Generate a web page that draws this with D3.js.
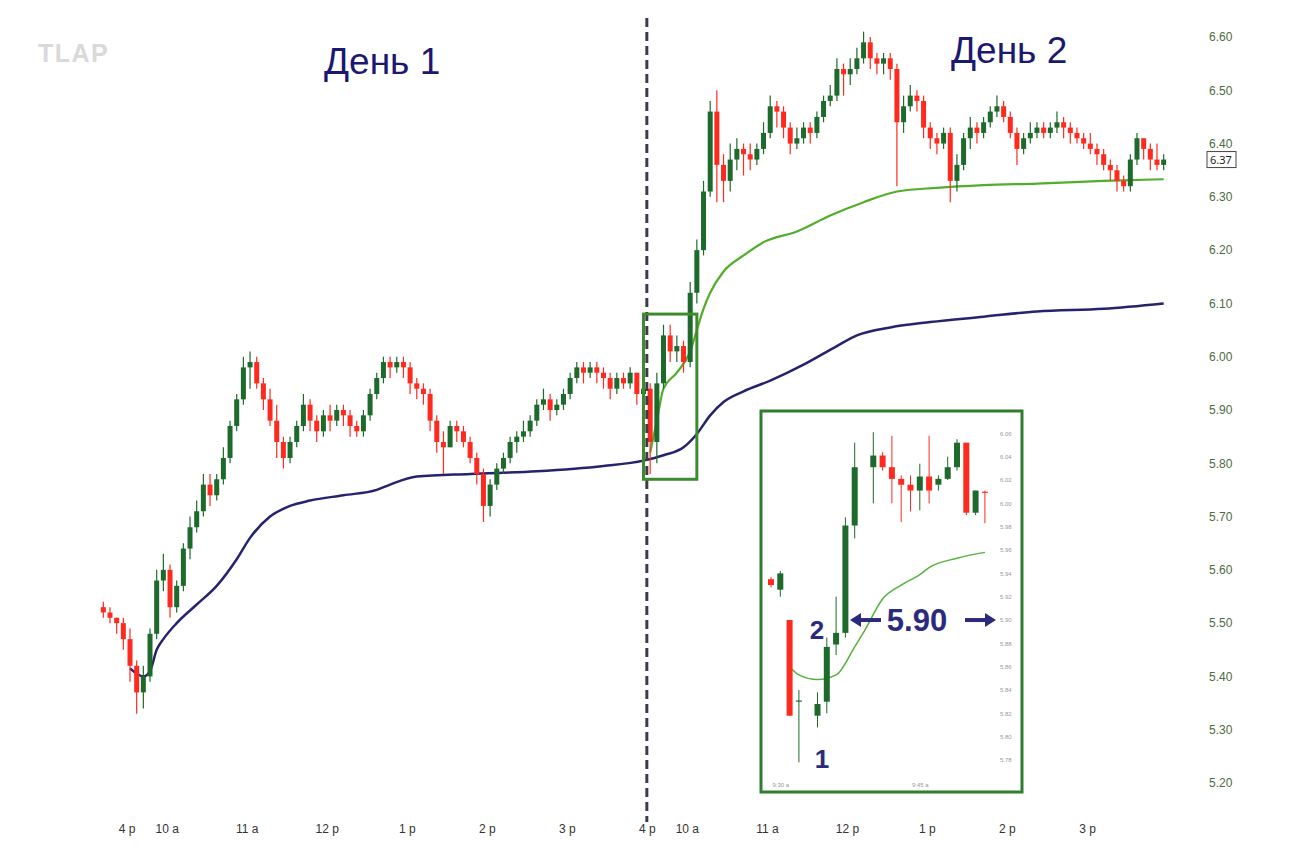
<!DOCTYPE html>
<html>
<head>
<meta charset="utf-8">
<script src="https://cdn.jsdelivr.net/npm/d3@7"></script>
<style>
  body { margin: 0; background: #fff; }
  svg { display: block; font-family: "Noto Sans", sans-serif; }
</style>
</head>
<body>
<svg id="chart" width="1290" height="864"></svg>
<script>
// 5-minute bars: 4 bars of the previous afternoon, then day 1 and day 2 sessions
const firstOpen = 5.53;
const closes = [
  5.52, 5.51, 5.50, 5.47, 5.42, 5.37, 5.40, 5.48, 5.58, 5.60,
  5.53, 5.57, 5.64, 5.68, 5.71, 5.76, 5.74, 5.77, 5.81, 5.87,
  5.92, 5.98, 5.99, 5.95, 5.92, 5.88, 5.84, 5.81, 5.84, 5.87,
  5.91, 5.88, 5.86, 5.89, 5.88, 5.90, 5.89, 5.87, 5.86, 5.89,
  5.93, 5.96, 5.99, 5.98, 5.99, 5.98, 5.95, 5.94, 5.93, 5.88,
  5.84, 5.83, 5.87, 5.86, 5.84, 5.81, 5.78, 5.72, 5.76, 5.79,
  5.81, 5.84, 5.85, 5.86, 5.88, 5.91, 5.92, 5.90, 5.91, 5.93,
  5.96, 5.98, 5.97, 5.98, 5.97, 5.96, 5.94, 5.96, 5.95, 5.97,
  5.93, 5.94,
  5.84, 5.95, 6.04, 6.01, 6.02, 5.99, 6.12, 6.20,
  6.31, 6.46, 6.36, 6.33, 6.37, 6.39, 6.38, 6.37, 6.39, 6.42,
  6.47, 6.46, 6.43, 6.40, 6.41, 6.43, 6.42, 6.45, 6.48, 6.49,
  6.54, 6.53, 6.54, 6.56, 6.59, 6.56, 6.55, 6.56, 6.54, 6.44,
  6.47, 6.49, 6.48, 6.43, 6.41, 6.40, 6.42, 6.33, 6.36, 6.41,
  6.43, 6.42, 6.44, 6.46, 6.47, 6.45, 6.42, 6.39, 6.41, 6.42,
  6.43, 6.42, 6.43, 6.44, 6.43, 6.42, 6.41, 6.40, 6.39, 6.38,
  6.36, 6.35, 6.33, 6.32, 6.37, 6.41, 6.39, 6.37, 6.36, 6.37
];
const highs = [
  5.54, 5.53, 5.51, 5.51, 5.49, 5.43, 5.42, 5.49, 5.60, 5.63,
  5.61, 5.58, 5.65, 5.70, 5.73, 5.78, 5.78, 5.78, 5.83, 5.88,
  5.93, 6.00, 6.01, 6.00, 5.96, 5.94, 5.91, 5.85, 5.85, 5.88,
  5.93, 5.92, 5.89, 5.90, 5.91, 5.91, 5.91, 5.90, 5.88, 5.90,
  5.94, 5.97, 6.00, 6.00, 6.00, 6.00, 5.99, 5.96, 5.95, 5.94,
  5.89, 5.86, 5.88, 5.88, 5.87, 5.85, 5.82, 5.79, 5.77, 5.80,
  5.82, 5.85, 5.86, 5.88, 5.89, 5.92, 5.94, 5.93, 5.92, 5.94,
  5.97, 5.99, 5.99, 5.99, 5.99, 5.98, 5.97, 5.97, 5.97, 5.98,
  5.97, 5.96,
  5.95, 5.97, 6.06, 6.06, 6.04, 6.03, 6.14, 6.22,
  6.33, 6.48, 6.50, 6.38, 6.40, 6.41, 6.40, 6.40, 6.40, 6.44,
  6.49, 6.48, 6.47, 6.44, 6.43, 6.44, 6.44, 6.46, 6.49, 6.51,
  6.56, 6.55, 6.56, 6.58, 6.61, 6.60, 6.57, 6.57, 6.57, 6.55,
  6.49, 6.51, 6.50, 6.49, 6.44, 6.42, 6.43, 6.43, 6.38, 6.42,
  6.45, 6.44, 6.45, 6.47, 6.49, 6.48, 6.46, 6.43, 6.42, 6.44,
  6.44, 6.44, 6.44, 6.46, 6.45, 6.44, 6.43, 6.42, 6.42, 6.40,
  6.39, 6.37, 6.36, 6.34, 6.38, 6.42, 6.41, 6.40, 6.40, 6.38
];
const lows = [
  5.51, 5.50, 5.48, 5.45, 5.39, 5.33, 5.34, 5.39, 5.47, 5.56,
  5.51, 5.52, 5.56, 5.62, 5.67, 5.70, 5.72, 5.73, 5.76, 5.80,
  5.86, 5.91, 5.94, 5.94, 5.90, 5.87, 5.81, 5.79, 5.80, 5.83,
  5.86, 5.86, 5.84, 5.85, 5.86, 5.87, 5.87, 5.85, 5.85, 5.85,
  5.88, 5.92, 5.95, 5.96, 5.97, 5.96, 5.93, 5.92, 5.91, 5.86,
  5.82, 5.78, 5.83, 5.84, 5.83, 5.80, 5.76, 5.69, 5.70, 5.75,
  5.78, 5.80, 5.82, 5.84, 5.85, 5.87, 5.90, 5.88, 5.89, 5.90,
  5.92, 5.95, 5.95, 5.96, 5.95, 5.94, 5.92, 5.93, 5.94, 5.94,
  5.91, 5.92,
  5.78, 5.80, 5.94, 5.99, 5.99, 5.97, 5.98, 6.10,
  6.19, 6.30, 6.29, 6.29, 6.31, 6.35, 6.34, 6.35, 6.36, 6.38,
  6.41, 6.43, 6.41, 6.38, 6.39, 6.40, 6.40, 6.41, 6.44, 6.47,
  6.48, 6.49, 6.51, 6.53, 6.55, 6.54, 6.53, 6.53, 6.52, 6.32,
  6.42, 6.46, 6.46, 6.41, 6.39, 6.38, 6.39, 6.29, 6.31, 6.35,
  6.39, 6.40, 6.41, 6.43, 6.45, 6.44, 6.41, 6.36, 6.38, 6.40,
  6.41, 6.41, 6.41, 6.42, 6.41, 6.40, 6.40, 6.39, 6.38, 6.36,
  6.35, 6.33, 6.31, 6.31, 6.31, 6.36, 6.37, 6.35, 6.35, 6.35
];
const totalBars = 160;
const day2Start = 82;

// VWAP from day 1 (navy) and VWAP from day 2 (green)
const blueIdx = [4, 6, 7, 8, 9, 11, 14, 17, 20, 22, 25, 28, 31, 36, 41, 43, 47, 55, 65, 75, 81,
  84, 87, 89, 91, 93, 96, 100, 105, 110, 113, 118, 124, 132, 140, 150, 159];
const bluePrice = [5.415, 5.40, 5.41, 5.45, 5.47, 5.50, 5.535, 5.57, 5.62, 5.66, 5.70, 5.72, 5.73,
  5.74, 5.75, 5.76, 5.775, 5.78, 5.785, 5.795, 5.805,
  5.815, 5.83, 5.855, 5.89, 5.915, 5.935, 5.955, 5.985, 6.02, 6.04, 6.055, 6.065, 6.075, 6.085, 6.09, 6.10];
const greenIdx = [82, 83, 84, 86, 88, 89, 90, 91, 93, 96, 99, 104, 109, 114, 119, 125, 132, 140, 150, 159];
const greenPrice = [5.82, 5.88, 5.94, 5.97, 6.01, 6.05, 6.09, 6.12, 6.16, 6.19, 6.215, 6.235, 6.265,
  6.29, 6.31, 6.317, 6.322, 6.325, 6.33, 6.333];

const yTicks = [5.2, 5.3, 5.4, 5.5, 5.6, 5.7, 5.8, 5.9, 6.0, 6.1, 6.2, 6.3, 6.4, 6.5, 6.6];
const timeIdx = [4, 10, 22, 34, 46, 58, 70, 82, 88, 100, 112, 124, 136, 148];
const timeLabels = ["4 p", "10 a", "11 a", "12 p", "1 p", "2 p", "3 p", "4 p", "10 a", "11 a", "12 p", "1 p", "2 p", "3 p"];
const lastPrice = 6.37;

// zoom box around the day 2 open
const boxFrom = 81.5, boxTo = 89.5, boxHigh = 6.08, boxLow = 5.77;

// inset: 1-minute bars around the day 2 open
const inSlot  = [0, 1, 2, 3, 5, 6, 7, 8, 9, 11, 12, 13, 14, 15, 16, 17, 18, 19, 20, 21, 22, 23];
const inOpen  = [5.935, 5.926, 5.900, 5.830, 5.818, 5.830, 5.879, 5.889, 5.981, 6.031, 6.041, 6.031, 6.021,
  6.016, 6.011, 6.023, 6.016, 6.021, 6.031, 6.052, 5.992, 6.010];
const inClose = [5.930, 5.940, 5.818, 5.831, 5.828, 5.877, 5.889, 5.981, 6.031, 6.041, 6.031, 6.021, 6.016,
  6.011, 6.023, 6.011, 6.021, 6.031, 6.052, 5.992, 6.011, 6.009];
const inHigh  = [5.937, 5.942, 5.900, 5.840, 5.838, 5.885, 5.920, 5.988, 6.052, 6.061, 6.044, 6.058, 6.024,
  6.024, 6.034, 6.058, 6.024, 6.040, 6.055, 6.052, 6.011, 6.011];
const inLow   = [5.928, 5.920, 5.818, 5.778, 5.808, 5.820, 5.870, 5.885, 5.970, 6.000, 6.028, 6.000, 5.984,
  5.993, 5.994, 6.000, 6.011, 6.020, 6.028, 5.990, 5.990, 5.983];
const inVwapSlot  = [2, 3, 5, 7, 9, 10, 12, 14, 16, 17, 20, 23];
const inVwapPrice = [5.86, 5.853, 5.849, 5.853, 5.877, 5.890, 5.918, 5.930, 5.939, 5.945, 5.953, 5.958];
const inTicks = [5.78, 5.80, 5.82, 5.84, 5.86, 5.88, 5.90, 5.92, 5.94, 5.96, 5.98, 6.00, 6.02, 6.04, 6.06];
const inTimeSlot = [1, 16];
const inTimeLabels = ["9:30 a", "9:45 a"];
const markLevel = 5.90;

const UP = "#1d6a2c", DOWN = "#ff2a1f", NAVY = "#26236e";

const svg = d3.select("#chart");

const x = d3.scaleLinear().domain([0, totalBars]).range([100, 1167]);
const y = d3.scaleLinear().domain([5.2, 6.6]).range([783, 37]);

const bars = closes.map((c, i) => ({
  i: i,
  o: i === 0 ? firstOpen : closes[i - 1],
  c: c,
  h: highs[i],
  l: lows[i]
}));

/* axes */
svg.append("g")
  .attr("transform", "translate(1200,0)")
  .call(d3.axisRight(y).tickValues(yTicks).tickFormat(d3.format(".2f")).tickSize(0).tickPadding(9))
  .call(g => g.select(".domain").remove())
  .selectAll("text")
  .attr("fill", "#4d6b3c")
  .attr("font-size", 12);

svg.append("g")
  .attr("transform", "translate(0,816)")
  .call(d3.axisBottom(x).tickValues(timeIdx).tickFormat((d, i) => timeLabels[i]).tickSize(0).tickPadding(8))
  .call(g => g.select(".domain").remove())
  .selectAll("text")
  .attr("fill", "#333")
  .attr("font-size", 12);

/* vwap lines */
const line = d3.line().x(d => x(d[0] + 0.5)).y(d => y(d[1])).curve(d3.curveMonotoneX);

svg.append("path")
  .attr("d", line(blueIdx.map((d, i) => [d, bluePrice[i]])))
  .attr("fill", "none")
  .attr("stroke", NAVY)
  .attr("stroke-width", 2.5);

svg.append("path")
  .attr("d", line(greenIdx.map((d, i) => [d, greenPrice[i]])))
  .attr("fill", "none")
  .attr("stroke", "#52ad2a")
  .attr("stroke-width", 2.2);

/* candles */
const bodyW = 5;
const cg = svg.append("g");
cg.selectAll("line")
  .data(bars).enter()
  .append("line")
  .attr("x1", d => x(d.i + 0.5))
  .attr("x2", d => x(d.i + 0.5))
  .attr("y1", d => y(d.h))
  .attr("y2", d => y(d.l))
  .attr("stroke", d => d.c >= d.o ? UP : DOWN)
  .attr("stroke-width", 1.2);

cg.selectAll("rect")
  .data(bars).enter()
  .append("rect")
  .attr("x", d => x(d.i + 0.5) - bodyW / 2)
  .attr("y", d => y(Math.max(d.o, d.c)))
  .attr("width", bodyW)
  .attr("height", d => Math.max(1.5, Math.abs(y(d.o) - y(d.c))))
  .attr("fill", d => d.c >= d.o ? UP : DOWN);

/* day separator */
svg.append("line")
  .attr("x1", x(day2Start)).attr("x2", x(day2Start))
  .attr("y1", 18).attr("y2", 822)
  .attr("stroke", "#3c3c48")
  .attr("stroke-width", 3)
  .attr("stroke-dasharray", "9,5");

/* zoom box */
svg.append("rect")
  .attr("x", x(boxFrom))
  .attr("y", y(boxHigh))
  .attr("width", x(boxTo) - x(boxFrom))
  .attr("height", y(boxLow) - y(boxHigh))
  .attr("fill", "none")
  .attr("stroke", "#3d8a2f")
  .attr("stroke-width", 3);

/* last price tag */
const tag = svg.append("g").attr("transform", `translate(1207,${y(lastPrice)})`);
tag.append("rect")
  .attr("x", 0).attr("y", -8).attr("width", 29).attr("height", 16)
  .attr("fill", "#fff").attr("stroke", "#444").attr("stroke-width", 1);
tag.append("text")
  .attr("x", 3).attr("y", 4)
  .attr("font-size", 11)
  .attr("fill", "#222")
  .text(lastPrice.toFixed(2));

/* titles */
svg.append("text")
  .attr("x", 38).attr("y", 62)
  .attr("font-family", "Liberation Sans, Arial, sans-serif")
  .attr("font-weight", "bold")
  .attr("font-size", 25)
  .attr("letter-spacing", 1.5)
  .attr("fill", "#d9d9d9")
  .text("TLAP");

svg.append("text")
  .attr("x", 324).attr("y", 74)
  .attr("font-family", "Liberation Sans, Arial, sans-serif")
  .attr("font-size", 37)
  .attr("fill", "#1b1870")
  .text("День 1");

svg.append("text")
  .attr("x", 951).attr("y", 63)
  .attr("font-family", "Liberation Sans, Arial, sans-serif")
  .attr("font-size", 37)
  .attr("fill", "#1b1870")
  .text("День 2");

/* inset */
const inset = svg.append("g");
inset.append("rect")
  .attr("x", 761).attr("y", 411).attr("width", 261).attr("height", 381)
  .attr("fill", "#fff")
  .attr("stroke", "#2f7d2f")
  .attr("stroke-width", 3);

const ix = d3.scaleLinear().domain([0, 25]).range([771, 1003.5]);
const iy = d3.scaleLinear().domain([5.77, 6.07]).range([771.7, 421.7]);

inset.append("g")
  .attr("transform", "translate(998,0)")
  .call(d3.axisRight(iy).tickValues(inTicks).tickFormat(d3.format(".2f")).tickSize(0).tickPadding(2))
  .call(g => g.select(".domain").remove())
  .selectAll("text")
  .attr("fill", "#999")
  .attr("font-size", 6);

inset.append("g")
  .attr("transform", "translate(0,782)")
  .call(d3.axisBottom(ix).tickValues(inTimeSlot).tickFormat((d, i) => inTimeLabels[i]).tickSize(0).tickPadding(1))
  .call(g => g.select(".domain").remove())
  .selectAll("text")
  .attr("fill", "#999")
  .attr("font-size", 6);

const iline = d3.line().x(d => ix(d[0])).y(d => iy(d[1])).curve(d3.curveMonotoneX);
inset.append("path")
  .attr("d", iline(inVwapSlot.map((d, i) => [d, inVwapPrice[i]])))
  .attr("fill", "none")
  .attr("stroke", "#53b33a")
  .attr("stroke-width", 1.5);

const ibars = inSlot.map((s, i) => ({ s: s, o: inOpen[i], c: inClose[i], h: inHigh[i], l: inLow[i] }));
inset.selectAll("line.wick")
  .data(ibars).enter()
  .append("line")
  .attr("class", "wick")
  .attr("x1", d => ix(d.s)).attr("x2", d => ix(d.s))
  .attr("y1", d => iy(d.h)).attr("y2", d => iy(d.l))
  .attr("stroke", d => d.c >= d.o ? UP : DOWN)
  .attr("stroke-width", 1);
inset.selectAll("rect.body")
  .data(ibars).enter()
  .append("rect")
  .attr("class", "body")
  .attr("x", d => ix(d.s) - 3)
  .attr("y", d => iy(Math.max(d.o, d.c)))
  .attr("width", 6)
  .attr("height", d => Math.max(1, Math.abs(iy(d.o) - iy(d.c))))
  .attr("fill", d => d.c >= d.o ? UP : DOWN);

/* annotations */
const my = iy(markLevel);
const ann = inset.append("g")
  .attr("font-family", "Liberation Sans, Arial, sans-serif")
  .attr("font-weight", "bold")
  .attr("fill", "#2c2a7c");
ann.append("text").attr("x", 817).attr("y", my + 19).attr("text-anchor", "middle").attr("font-size", 26).text("2");
ann.append("text").attr("x", 822).attr("y", 768).attr("text-anchor", "middle").attr("font-size", 26).text("1");
ann.append("text").attr("x", 917).attr("y", my + 11).attr("text-anchor", "middle").attr("font-size", 31).text(markLevel.toFixed(2));

const arrow = (x1, x2) => {
  const dir = Math.sign(x2 - x1);
  inset.append("line")
    .attr("x1", x1).attr("x2", x2 - dir * 8)
    .attr("y1", my).attr("y2", my)
    .attr("stroke", "#2c2a7c").attr("stroke-width", 4);
  inset.append("path")
    .attr("d", `M${x2},${my} L${x2 - dir * 11},${my - 7} L${x2 - dir * 11},${my + 7} Z`)
    .attr("fill", "#2c2a7c");
};
arrow(881, 850);
arrow(965, 996);
</script>
</body>
</html>
